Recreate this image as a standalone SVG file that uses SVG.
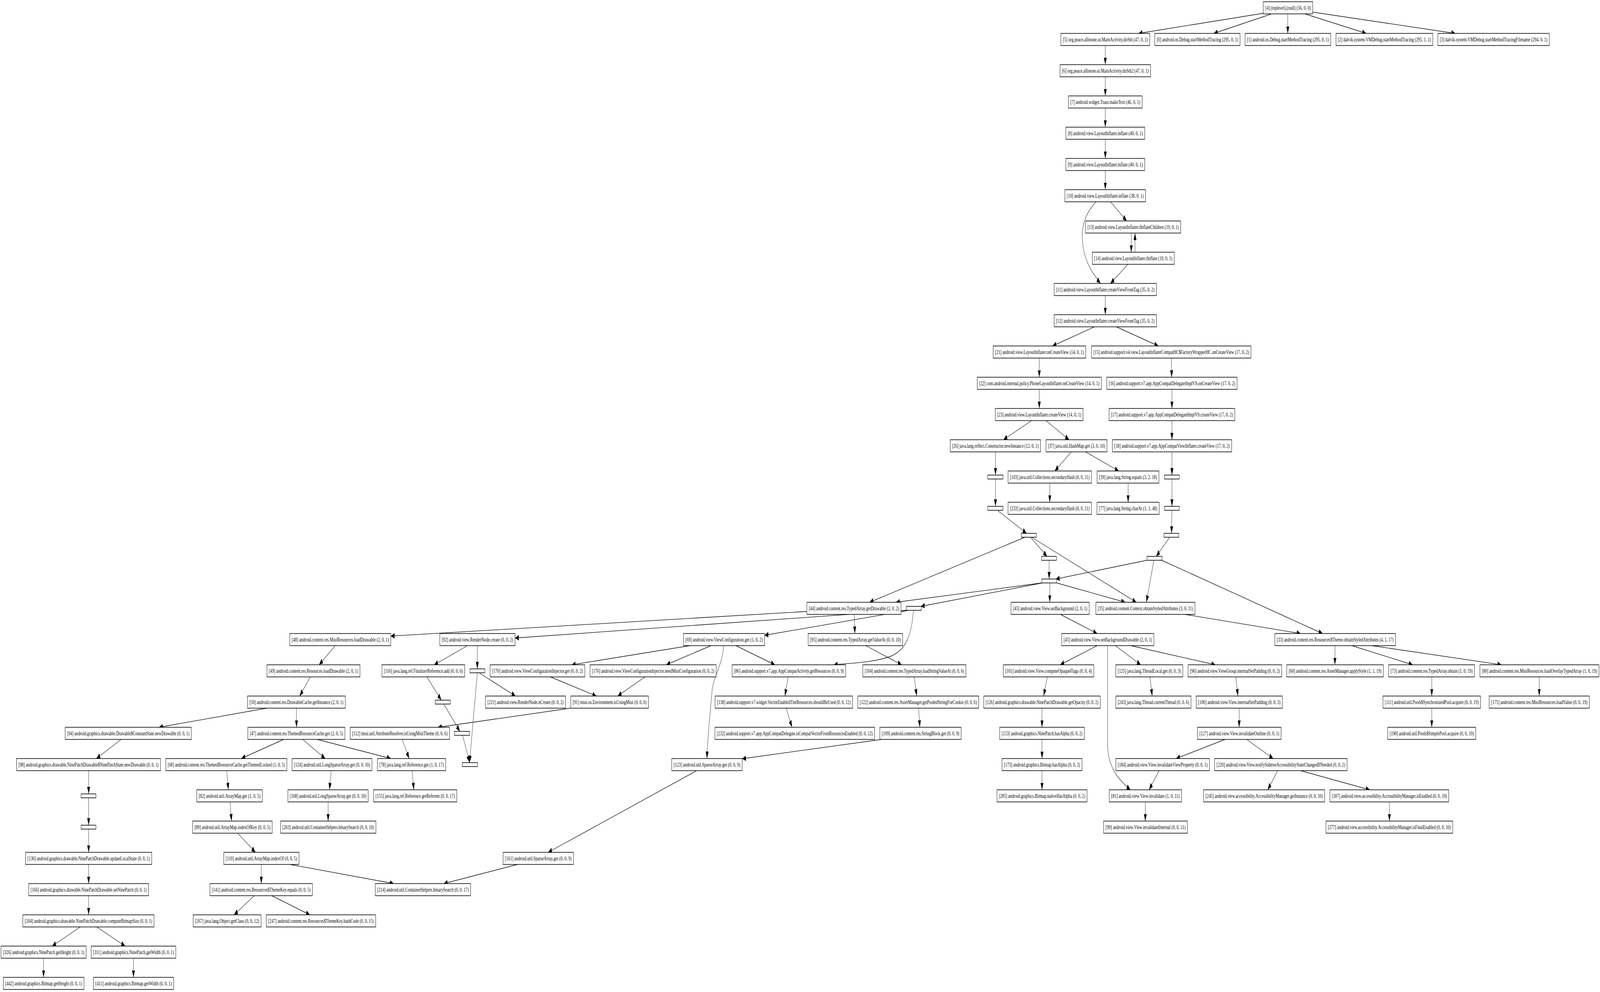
<svg xmlns="http://www.w3.org/2000/svg" width="7636" height="2539" viewBox="0 0 7636 2539" preserveAspectRatio="none">
<defs>
<style>
svg:root{width:100%;height:100%}
.n rect{fill:#fff;stroke:#000;stroke-width:1.6}
.n text{font-family:"Liberation Serif","Times New Roman",serif;font-size:15.5px;text-anchor:middle;fill:#000}
.e path{fill:none;stroke:#000;stroke-width:1.3;marker-end:url(#ah)}
</style>
<marker id="ah" markerUnits="userSpaceOnUse" markerWidth="18" markerHeight="14" refX="18" refY="7" orient="auto"><path d="M0,0 L18,7 L0,14 z" fill="#000"/></marker>
</defs>
<rect x="0" y="0" width="7636" height="2539" fill="#fff"/>
<g id="edges" class="e">
<path d="M6029,34 L5434,85.5"/>
<path d="M6066,36 L5793,85.5"/>
<path d="M6146,35.5 L6146,85.5"/>
<path d="M6228,35.5 L6520,85.5"/>
<path d="M6265,31 L6945,85.5"/>
<path d="M5275,116.5 L5275,165.5"/>
<path d="M5275,196.5 L5275,245.5"/>
<path d="M5275,276.5 L5275,325.5"/>
<path d="M5275,356.5 L5275,405.5"/>
<path d="M5275,436.5 L5275,485.5"/>
<path d="M5231,516.5 C5180,545 5162,580 5165,610 C5170,660 5200,690 5252,725.5"/>
<path d="M5300,516.5 L5377,565.5"/>
<path d="M5399,596.5 L5399,645.5"/>
<path d="M5417,645.5 L5417,596.5"/>
<path d="M5383,676.5 L5300,725.5"/>
<path d="M5275,756.5 L5275,805.5"/>
<path d="M5223,836.5 L5023,885.5"/>
<path d="M5328,836.5 L5528,885.5"/>
<path d="M4960,916.5 L4960,965.5"/>
<path d="M4960,996.5 L4960,1045.5"/>
<path d="M4923,1076.5 L4789,1125.5"/>
<path d="M4992,1076.5 L5102,1125.5"/>
<path d="M5590,916.5 L5592,965.5"/>
<path d="M5593,996.5 L5593,1045.5"/>
<path d="M5593,1076.5 L5593,1125.5"/>
<path d="M4751,1156.5 L4751,1216"/>
<path d="M5113,1156.5 L5034,1205.5"/>
<path d="M5181,1156.5 L5339,1205.5"/>
<path d="M5593,1156.5 L5593,1216"/>
<path d="M4751,1226 L4751,1296"/>
<path d="M5010,1236.5 L5010,1285.5"/>
<path d="M5384,1236.5 L5384,1285.5"/>
<path d="M5593,1226 L5593,1296"/>
<path d="M4760,1306 L4899,1365"/>
<path d="M5593,1306 L5591,1365"/>
<path d="M4918,1375 L4997,1424"/>
<path d="M5583,1375 L5518,1424"/>
<path d="M4892,1375 L4150,1541.5"/>
<path d="M4923,1375 L5423,1541.5"/>
<path d="M5007,1434 L5007,1482"/>
<path d="M5474,1434 L5039,1482"/>
<path d="M4971,1492 L4276,1541.5"/>
<path d="M4975,1492 L4395,1552"/>
<path d="M5010,1492 L5010,1541.5"/>
<path d="M5043,1492 L5370,1541.5"/>
<path d="M5507,1434 L5471,1541.5"/>
<path d="M5544,1434 L6312,1621.5"/>
<path d="M5655,1572.5 L6207,1621.5"/>
<path d="M5061,1572.5 L5236,1621.5"/>
<path d="M3851,1565 L1865,1628"/>
<path d="M4330,1562 L2458,1633"/>
<path d="M4337,1562 L3649,1626"/>
<path d="M4360,1562 C4350,1620 4330,1662 4250,1680 C4160,1697 4050,1697 3979,1701.5"/>
<path d="M4077,1572.5 L4080,1621.5"/>
<path d="M1600,1652.5 L1523,1701.5"/>
<path d="M2231,1652.5 L2072,1701.5"/>
<path d="M2278,1652.5 L2278,1712"/>
<path d="M3293,1652.5 L2729,1701.5"/>
<path d="M3393,1652.5 L3180,1701.5"/>
<path d="M3453,1652.5 C3450,1700 3405,1730 3398,1770 C3385,1850 3376,1900 3374,1941.5"/>
<path d="M3512,1652.5 L3698,1701.5"/>
<path d="M4132,1652.5 L4303,1701.5"/>
<path d="M5236,1652.5 L5060,1701.5"/>
<path d="M5286,1652.5 L5286,1910 C5290,1962 5330,1992 5395,2021.5"/>
<path d="M5323,1652.5 L5444,1701.5"/>
<path d="M5397,1652.5 L5800,1701.5"/>
<path d="M6371,1652.5 L6371,1701.5"/>
<path d="M6452,1652.5 L6742,1701.5"/>
<path d="M6547,1652.5 L7165,1701.5"/>
<path d="M1481,1732.5 L1430,1781.5"/>
<path d="M2037,1732.5 L2106,1792"/>
<path d="M2287,1722 L2460,1781.5"/>
<path d="M2278,1722 L2241,1952"/>
<path d="M2627,1732.5 L2846,1781.5"/>
<path d="M3078,1732.5 L2948,1781.5"/>
<path d="M3761,1732.5 L3746,1781.5"/>
<path d="M4363,1732.5 L4375,1781.5"/>
<path d="M4998,1732.5 L4981,1781.5"/>
<path d="M5488,1732.5 L5499,1781.5"/>
<path d="M5898,1732.5 L5908,1781.5"/>
<path d="M6833,1732.5 L6833,1781.5"/>
<path d="M7346,1732.5 L7346,1781.5"/>
<path d="M1415,1812.5 L1415,1861.5"/>
<path d="M1273,1812.5 L759,1861.5"/>
<path d="M2724,1812.5 L2090,1861.5"/>
<path d="M2118,1802 L2195,1872"/>
<path d="M3752,1812.5 L3780,1861.5"/>
<path d="M4384,1812.5 L4390,1861.5"/>
<path d="M4973,1812.5 L4973,1861.5"/>
<path d="M5914,1812.5 L5914,1861.5"/>
<path d="M6833,1812.5 L6833,1861.5"/>
<path d="M578,1892.5 L460,1941.5"/>
<path d="M1353,1892.5 L1152,1941.5"/>
<path d="M1445,1892.5 L1552,1941.5"/>
<path d="M1514,1892.5 L1865,1941.5"/>
<path d="M1919,1892.5 L1953,1941.5"/>
<path d="M2208,1882 L2241,1952"/>
<path d="M4208,1892.5 L3542,1942"/>
<path d="M4973,1892.5 L4973,1941.5"/>
<path d="M5847,1892.5 L5613,1941.5"/>
<path d="M5950,1892.5 L6076,1941.5"/>
<path d="M423,1972.5 L423,2032"/>
<path d="M1082,1972.5 L1090,2021.5"/>
<path d="M1581,1972.5 L1572,2021.5"/>
<path d="M1967,1972.5 L1975,2021.5"/>
<path d="M4973,1972.5 L4973,2021.5"/>
<path d="M5532,1972.5 L5484,2021.5"/>
<path d="M6098,1972.5 L6050,2021.5"/>
<path d="M6207,1972.5 L6537,2021.5"/>
<path d="M423,2042 L423,2112"/>
<path d="M1098,2052.5 L1105,2101.5"/>
<path d="M1566,2052.5 L1566,2101.5"/>
<path d="M5466,2052.5 L5466,2101.5"/>
<path d="M6631,2052.5 L6631,2101.5"/>
<path d="M423,2122 L423,2181.5"/>
<path d="M1134,2132.5 L1219,2181.5"/>
<path d="M3325,1972.5 L2616,2181.5"/>
<path d="M423,2212.5 L423,2261.5"/>
<path d="M1247,2212.5 L1247,2261.5"/>
<path d="M1384,2212.5 L1879,2261.5"/>
<path d="M2470,2212.5 L2118,2261.5"/>
<path d="M423,2292.5 L423,2341.5"/>
<path d="M1214,2292.5 L1117,2341.5"/>
<path d="M1297,2292.5 L1479,2341.5"/>
<path d="M383,2372.5 L249,2421.5"/>
<path d="M462,2372.5 L597,2421.5"/>
<path d="M208,2452.5 L208,2501.5"/>
<path d="M637,2452.5 L637,2501.5"/>
</g>
<g id="n4" class="n"><rect x="6029" y="4.5" width="236" height="31"/><text x="6147" y="25" textLength="218" lengthAdjust="spacingAndGlyphs">[4] (toplevel).(null) (56, 0, 0)</text></g>
<g id="n5" class="n"><rect x="5063" y="85.5" width="424" height="31"/><text x="5275" y="106" textLength="406" lengthAdjust="spacingAndGlyphs">[5] org.peace.allinone.ui.MainActivity.doSth (47, 0, 1)</text></g>
<g id="n0" class="n"><rect x="5511" y="85.5" width="407" height="31"/><text x="5714.5" y="106" textLength="389" lengthAdjust="spacingAndGlyphs">[0] android.os.Debug.startMethodTracing (295, 0, 1)</text></g>
<g id="n1" class="n"><rect x="5942" y="85.5" width="409" height="31"/><text x="6146.5" y="106" textLength="391" lengthAdjust="spacingAndGlyphs">[1] android.os.Debug.startMethodTracing (295, 0, 1)</text></g>
<g id="n2" class="n"><rect x="6376" y="85.5" width="462" height="31"/><text x="6607" y="106" textLength="444" lengthAdjust="spacingAndGlyphs">[2] dalvik.system.VMDebug.startMethodTracing (295, 1, 1)</text></g>
<g id="n3" class="n"><rect x="6862" y="85.5" width="532" height="31"/><text x="7128" y="106" textLength="514" lengthAdjust="spacingAndGlyphs">[3] dalvik.system.VMDebug.startMethodTracingFilename (294, 0, 1)</text></g>
<g id="n6" class="n"><rect x="5059" y="165.5" width="432" height="31"/><text x="5275" y="186" textLength="414" lengthAdjust="spacingAndGlyphs">[6] org.peace.allinone.ui.MainActivity.doSth2 (47, 0, 1)</text></g>
<g id="n7" class="n"><rect x="5099" y="245.5" width="352" height="31"/><text x="5275" y="266" textLength="334" lengthAdjust="spacingAndGlyphs">[7] android.widget.Toast.makeText (46, 0, 1)</text></g>
<g id="n8" class="n"><rect x="5087" y="325.5" width="376" height="31"/><text x="5275" y="346" textLength="358" lengthAdjust="spacingAndGlyphs">[8] android.view.LayoutInflater.inflate (40, 0, 1)</text></g>
<g id="n9" class="n"><rect x="5087" y="405.5" width="376" height="31"/><text x="5275" y="426" textLength="358" lengthAdjust="spacingAndGlyphs">[9] android.view.LayoutInflater.inflate (40, 0, 1)</text></g>
<g id="n10" class="n"><rect x="5082" y="485.5" width="385" height="31"/><text x="5274.5" y="506" textLength="367" lengthAdjust="spacingAndGlyphs">[10] android.view.LayoutInflater.inflate (38, 0, 1)</text></g>
<g id="n13" class="n"><rect x="5181" y="565.5" width="454" height="31"/><text x="5408" y="586" textLength="436" lengthAdjust="spacingAndGlyphs">[13] android.view.LayoutInflater.rInflateChildren (19, 0, 1)</text></g>
<g id="n14" class="n"><rect x="5213" y="645.5" width="391" height="31"/><text x="5408.5" y="666" textLength="373" lengthAdjust="spacingAndGlyphs">[14] android.view.LayoutInflater.rInflate (19, 0, 1)</text></g>
<g id="n11" class="n"><rect x="5031" y="725.5" width="488" height="31"/><text x="5275" y="746" textLength="470" lengthAdjust="spacingAndGlyphs">[11] android.view.LayoutInflater.createViewFromTag (35, 0, 2)</text></g>
<g id="n12" class="n"><rect x="5031" y="805.5" width="488" height="31"/><text x="5275" y="826" textLength="470" lengthAdjust="spacingAndGlyphs">[12] android.view.LayoutInflater.createViewFromTag (35, 0, 2)</text></g>
<g id="n21" class="n"><rect x="4740" y="885.5" width="442" height="31"/><text x="4961" y="906" textLength="424" lengthAdjust="spacingAndGlyphs">[21] android.view.LayoutInflater.onCreateView (14, 0, 1)</text></g>
<g id="n15" class="n"><rect x="5209" y="885.5" width="761" height="31"/><text x="5589.5" y="906" textLength="743" lengthAdjust="spacingAndGlyphs">[15] android.support.v4.view.LayoutInflaterCompatHC$FactoryWrapperHC.onCreateView (17, 0, 2)</text></g>
<g id="n22" class="n"><rect x="4664" y="965.5" width="592" height="31"/><text x="4960" y="986" textLength="574" lengthAdjust="spacingAndGlyphs">[22] com.android.internal.policy.PhoneLayoutInflater.onCreateView (14, 0, 1)</text></g>
<g id="n16" class="n"><rect x="5282" y="965.5" width="622" height="31"/><text x="5593" y="986" textLength="604" lengthAdjust="spacingAndGlyphs">[16] android.support.v7.app.AppCompatDelegateImplV9.onCreateView (17, 0, 2)</text></g>
<g id="n23" class="n"><rect x="4750" y="1045.5" width="419" height="31"/><text x="4959.5" y="1066" textLength="401" lengthAdjust="spacingAndGlyphs">[23] android.view.LayoutInflater.createView (14, 0, 1)</text></g>
<g id="n17" class="n"><rect x="5293" y="1045.5" width="600" height="31"/><text x="5593" y="1066" textLength="582" lengthAdjust="spacingAndGlyphs">[17] android.support.v7.app.AppCompatDelegateImplV9.createView (17, 0, 2)</text></g>
<g id="n26" class="n"><rect x="4535" y="1125.5" width="431" height="31"/><text x="4750.5" y="1146" textLength="413" lengthAdjust="spacingAndGlyphs">[26] java.lang.reflect.Constructor.newInstance (12, 0, 1)</text></g>
<g id="n37" class="n"><rect x="4992" y="1125.5" width="291" height="31"/><text x="5137.5" y="1146" textLength="273" lengthAdjust="spacingAndGlyphs">[37] java.util.HashMap.get (3, 0, 10)</text></g>
<g id="n18" class="n"><rect x="5309" y="1125.5" width="569" height="31"/><text x="5593.5" y="1146" textLength="551" lengthAdjust="spacingAndGlyphs">[18] android.support.v7.app.AppCompatViewInflater.createView (17, 0, 2)</text></g>
<g id="n103" class="n"><rect x="4811" y="1205.5" width="398" height="31"/><text x="5010" y="1226" textLength="380" lengthAdjust="spacingAndGlyphs">[103] java.util.Collections.secondaryHash (0, 0, 11)</text></g>
<g id="n39" class="n"><rect x="5236" y="1205.5" width="295" height="31"/><text x="5383.5" y="1226" textLength="277" lengthAdjust="spacingAndGlyphs">[39] java.lang.String.equals (3, 2, 18)</text></g>
<g id="n233" class="n"><rect x="4811" y="1285.5" width="398" height="31"/><text x="5010" y="1306" textLength="380" lengthAdjust="spacingAndGlyphs">[233] java.util.Collections.secondaryHash (0, 0, 11)</text></g>
<g id="n77" class="n"><rect x="5235" y="1285.5" width="297" height="31"/><text x="5383.5" y="1306" textLength="279" lengthAdjust="spacingAndGlyphs">[77] java.lang.String.charAt (1, 1, 48)</text></g>
<g id="sA1" class="n"><rect x="4714" y="1216" width="73" height="10"/></g>
<g id="sB1" class="n"><rect x="5557" y="1216" width="71" height="10"/></g>
<g id="sA2" class="n"><rect x="4714" y="1296" width="73" height="10"/></g>
<g id="sB2" class="n"><rect x="5557" y="1296" width="71" height="10"/></g>
<g id="sA3" class="n"><rect x="4874" y="1365" width="72" height="10"/></g>
<g id="sB3" class="n"><rect x="5555" y="1365" width="71" height="10"/></g>
<g id="sA4" class="n"><rect x="4971" y="1424" width="71" height="10"/></g>
<g id="sB4" class="n"><rect x="5474" y="1424" width="72" height="10"/></g>
<g id="sA5" class="n"><rect x="4972" y="1482" width="71" height="10"/></g>
<g id="sC1" class="n"><rect x="4325" y="1552" width="72" height="10"/></g>
<g id="n44" class="n"><rect x="3851" y="1541.5" width="449" height="31"/><text x="4075.5" y="1562" textLength="431" lengthAdjust="spacingAndGlyphs">[44] android.content.res.TypedArray.getDrawable (2, 0, 2)</text></g>
<g id="n43" class="n"><rect x="4825" y="1541.5" width="373" height="31"/><text x="5011.5" y="1562" textLength="355" lengthAdjust="spacingAndGlyphs">[43] android.view.View.setBackground (2, 0, 1)</text></g>
<g id="n35" class="n"><rect x="5230" y="1541.5" width="473" height="31"/><text x="5466.5" y="1562" textLength="455" lengthAdjust="spacingAndGlyphs">[35] android.content.Context.obtainStyledAttributes (3, 0, 11)</text></g>
<g id="n48" class="n"><rect x="1383" y="1621.5" width="482" height="31"/><text x="1624" y="1642" textLength="464" lengthAdjust="spacingAndGlyphs">[48] android.content.res.MiuiResources.loadDrawable (2, 0, 1)</text></g>
<g id="n92" class="n"><rect x="2099" y="1621.5" width="359" height="31"/><text x="2278.5" y="1642" textLength="341" lengthAdjust="spacingAndGlyphs">[92] android.view.RenderNode.create (0, 0, 2)</text></g>
<g id="n69" class="n"><rect x="3262" y="1621.5" width="387" height="31"/><text x="3455.5" y="1642" textLength="369" lengthAdjust="spacingAndGlyphs">[69] android.view.ViewConfiguration.get (1, 0, 2)</text></g>
<g id="n95" class="n"><rect x="3857" y="1621.5" width="451" height="31"/><text x="4082.5" y="1642" textLength="433" lengthAdjust="spacingAndGlyphs">[95] android.content.res.TypedArray.getValueAt (0, 0, 10)</text></g>
<g id="n45" class="n"><rect x="5067" y="1621.5" width="440" height="31"/><text x="5287" y="1642" textLength="422" lengthAdjust="spacingAndGlyphs">[45] android.view.View.setBackgroundDrawable (2, 0, 1)</text></g>
<g id="n33" class="n"><rect x="6084" y="1621.5" width="576" height="31"/><text x="6372" y="1642" textLength="558" lengthAdjust="spacingAndGlyphs">[33] android.content.res.Resources$Theme.obtainStyledAttributes (4, 1, 17)</text></g>
<g id="n49" class="n"><rect x="1274" y="1701.5" width="444" height="31"/><text x="1496" y="1722" textLength="426" lengthAdjust="spacingAndGlyphs">[49] android.content.res.Resources.loadDrawable (2, 0, 1)</text></g>
<g id="n116" class="n"><rect x="1823" y="1701.5" width="395" height="31"/><text x="2020.5" y="1722" textLength="377" lengthAdjust="spacingAndGlyphs">[116] java.lang.ref.FinalizerReference.add (0, 0, 6)</text></g>
<g id="sD1" class="n"><rect x="2243" y="1712" width="71" height="10"/></g>
<g id="n170" class="n"><rect x="2339" y="1701.5" width="452" height="31"/><text x="2565" y="1722" textLength="434" lengthAdjust="spacingAndGlyphs">[170] android.view.ViewConfigurationInjector.get (0, 0, 2)</text></g>
<g id="n176" class="n"><rect x="2816" y="1701.5" width="602" height="31"/><text x="3117" y="1722" textLength="584" lengthAdjust="spacingAndGlyphs">[176] android.view.ViewConfigurationInjector.needMiuiConfiguration (0, 0, 2)</text></g>
<g id="n86" class="n"><rect x="3494" y="1701.5" width="542" height="31"/><text x="3765" y="1722" textLength="524" lengthAdjust="spacingAndGlyphs">[86] android.support.v7.app.AppCompatActivity.getResources (0, 0, 9)</text></g>
<g id="n104" class="n"><rect x="4118" y="1701.5" width="492" height="31"/><text x="4364" y="1722" textLength="474" lengthAdjust="spacingAndGlyphs">[104] android.content.res.TypedArray.loadStringValueAt (0, 0, 6)</text></g>
<g id="n101" class="n"><rect x="4788" y="1701.5" width="432" height="31"/><text x="5004" y="1722" textLength="414" lengthAdjust="spacingAndGlyphs">[101] android.view.View.computeOpaqueFlags (0, 0, 4)</text></g>
<g id="n125" class="n"><rect x="5325" y="1701.5" width="320" height="31"/><text x="5485" y="1722" textLength="302" lengthAdjust="spacingAndGlyphs">[125] java.lang.ThreadLocal.get (0, 0, 3)</text></g>
<g id="n96" class="n"><rect x="5670" y="1701.5" width="447" height="31"/><text x="5893.5" y="1722" textLength="429" lengthAdjust="spacingAndGlyphs">[96] android.view.ViewGroup.internalSetPadding (0, 0, 2)</text></g>
<g id="n60" class="n"><rect x="6141" y="1701.5" width="461" height="31"/><text x="6371.5" y="1722" textLength="443" lengthAdjust="spacingAndGlyphs">[60] android.content.res.AssetManager.applyStyle (1, 1, 19)</text></g>
<g id="n73" class="n"><rect x="6627" y="1701.5" width="410" height="31"/><text x="6832" y="1722" textLength="392" lengthAdjust="spacingAndGlyphs">[73] android.content.res.TypedArray.obtain (1, 0, 19)</text></g>
<g id="n80" class="n"><rect x="7063" y="1701.5" width="568" height="31"/><text x="7347" y="1722" textLength="550" lengthAdjust="spacingAndGlyphs">[80] android.content.res.MiuiResources.loadOverlayTypedArray (1, 0, 19)</text></g>
<g id="n50" class="n"><rect x="1181" y="1781.5" width="467" height="31"/><text x="1414.5" y="1802" textLength="449" lengthAdjust="spacingAndGlyphs">[50] android.content.res.DrawableCache.getInstance (2, 0, 1)</text></g>
<g id="sD2" class="n"><rect x="2077" y="1792" width="72" height="10"/></g>
<g id="n221" class="n"><rect x="2317" y="1781.5" width="382" height="31"/><text x="2508" y="1802" textLength="364" lengthAdjust="spacingAndGlyphs">[221] android.view.RenderNode.nCreate (0, 0, 2)</text></g>
<g id="n91" class="n"><rect x="2724" y="1781.5" width="371" height="31"/><text x="2909.5" y="1802" textLength="353" lengthAdjust="spacingAndGlyphs">[91] miui.os.Environment.isUsingMiui (0, 0, 6)</text></g>
<g id="n138" class="n"><rect x="3413" y="1781.5" width="656" height="31"/><text x="3741" y="1802" textLength="638" lengthAdjust="spacingAndGlyphs">[138] android.support.v7.widget.VectorEnabledTintResources.shouldBeUsed (0, 0, 12)</text></g>
<g id="n122" class="n"><rect x="4094" y="1781.5" width="577" height="31"/><text x="4382.5" y="1802" textLength="559" lengthAdjust="spacingAndGlyphs">[122] android.content.res.AssetManager.getPooledStringForCookie (0, 0, 6)</text></g>
<g id="n126" class="n"><rect x="4695" y="1781.5" width="556" height="31"/><text x="4973" y="1802" textLength="538" lengthAdjust="spacingAndGlyphs">[126] android.graphics.drawable.NinePatchDrawable.getOpacity (0, 0, 2)</text></g>
<g id="n243" class="n"><rect x="5325" y="1781.5" width="359" height="31"/><text x="5504.5" y="1802" textLength="341" lengthAdjust="spacingAndGlyphs">[243] java.lang.Thread.currentThread (0, 0, 6)</text></g>
<g id="n106" class="n"><rect x="5709" y="1781.5" width="411" height="31"/><text x="5914.5" y="1802" textLength="393" lengthAdjust="spacingAndGlyphs">[106] android.view.View.internalSetPadding (0, 0, 3)</text></g>
<g id="n111" class="n"><rect x="6600" y="1781.5" width="466" height="31"/><text x="6833" y="1802" textLength="448" lengthAdjust="spacingAndGlyphs">[111] android.util.Pools$SynchronizedPool.acquire (0, 0, 19)</text></g>
<g id="n175" class="n"><rect x="7107" y="1781.5" width="478" height="31"/><text x="7346" y="1802" textLength="460" lengthAdjust="spacingAndGlyphs">[175] android.content.res.MiuiResources.loadValue (0, 0, 19)</text></g>
<g id="n94" class="n"><rect x="311" y="1861.5" width="602" height="31"/><text x="612" y="1882" textLength="584" lengthAdjust="spacingAndGlyphs">[94] android.graphics.drawable.Drawable$ConstantState.newDrawable (0, 0, 1)</text></g>
<g id="n47" class="n"><rect x="1183" y="1861.5" width="463" height="31"/><text x="1414.5" y="1882" textLength="445" lengthAdjust="spacingAndGlyphs">[47] android.content.res.ThemedResourceCache.get (2, 0, 5)</text></g>
<g id="n112" class="n"><rect x="1671" y="1861.5" width="474" height="31"/><text x="1908" y="1882" textLength="456" lengthAdjust="spacingAndGlyphs">[112] miui.util.AttributeResolver.isUsingMiuiTheme (0, 0, 6)</text></g>
<g id="sD4" class="n"><rect x="2169" y="1872" width="72" height="10"/></g>
<g id="n232" class="n"><rect x="3412" y="1861.5" width="762" height="31"/><text x="3793" y="1882" textLength="744" lengthAdjust="spacingAndGlyphs">[232] android.support.v7.app.AppCompatDelegate.isCompatVectorFromResourcesEnabled (0, 0, 12)</text></g>
<g id="n109" class="n"><rect x="4199" y="1861.5" width="388" height="31"/><text x="4393" y="1882" textLength="370" lengthAdjust="spacingAndGlyphs">[109] android.content.res.StringBlock.get (0, 0, 9)</text></g>
<g id="n153" class="n"><rect x="4771" y="1861.5" width="404" height="31"/><text x="4973" y="1882" textLength="386" lengthAdjust="spacingAndGlyphs">[153] android.graphics.NinePatch.hasAlpha (0, 0, 2)</text></g>
<g id="n127" class="n"><rect x="5715" y="1861.5" width="399" height="31"/><text x="5914.5" y="1882" textLength="381" lengthAdjust="spacingAndGlyphs">[127] android.view.View.invalidateOutline (0, 0, 1)</text></g>
<g id="n190" class="n"><rect x="6623" y="1861.5" width="420" height="31"/><text x="6833" y="1882" textLength="402" lengthAdjust="spacingAndGlyphs">[190] android.util.Pools$SimplePool.acquire (0, 0, 19)</text></g>
<g id="n98" class="n"><rect x="79" y="1941.5" width="687" height="31"/><text x="422.5" y="1962" textLength="669" lengthAdjust="spacingAndGlyphs">[98] android.graphics.drawable.NinePatchDrawable$NinePatchState.newDrawable (0, 0, 1)</text></g>
<g id="n68" class="n"><rect x="791" y="1941.5" width="578" height="31"/><text x="1080" y="1962" textLength="560" lengthAdjust="spacingAndGlyphs">[68] android.content.res.ThemedResourceCache.getThemedLocked (1, 0, 5)</text></g>
<g id="n124" class="n"><rect x="1394" y="1941.5" width="381" height="31"/><text x="1584.5" y="1962" textLength="363" lengthAdjust="spacingAndGlyphs">[124] android.util.LongSparseArray.get (0, 0, 10)</text></g>
<g id="n78" class="n"><rect x="1801" y="1941.5" width="326" height="31"/><text x="1964" y="1962" textLength="308" lengthAdjust="spacingAndGlyphs">[78] java.lang.ref.Reference.get (1, 0, 17)</text></g>
<g id="sD3" class="n"><rect x="2206" y="1952" width="73" height="10"/></g>
<g id="n123" class="n"><rect x="3206" y="1941.5" width="336" height="31"/><text x="3374" y="1962" textLength="318" lengthAdjust="spacingAndGlyphs">[123] android.util.SparseArray.get (0, 0, 9)</text></g>
<g id="n173" class="n"><rect x="4782" y="1941.5" width="382" height="31"/><text x="4973" y="1962" textLength="364" lengthAdjust="spacingAndGlyphs">[173] android.graphics.Bitmap.hasAlpha (0, 0, 2)</text></g>
<g id="n184" class="n"><rect x="5325" y="1941.5" width="447" height="31"/><text x="5548.5" y="1962" textLength="429" lengthAdjust="spacingAndGlyphs">[184] android.view.View.invalidateViewProperty (0, 0, 1)</text></g>
<g id="n220" class="n"><rect x="5797" y="1941.5" width="632" height="31"/><text x="6113" y="1962" textLength="614" lengthAdjust="spacingAndGlyphs">[220] android.view.View.notifySubtreeAccessibilityStateChangedIfNeeded (0, 0, 2)</text></g>
<g id="sE1" class="n"><rect x="387" y="2032" width="71" height="10"/></g>
<g id="n82" class="n"><rect x="939" y="2021.5" width="313" height="31"/><text x="1095.5" y="2042" textLength="295" lengthAdjust="spacingAndGlyphs">[82] android.util.ArrayMap.get (1, 0, 5)</text></g>
<g id="n168" class="n"><rect x="1374" y="2021.5" width="383" height="31"/><text x="1565.5" y="2042" textLength="365" lengthAdjust="spacingAndGlyphs">[168] android.util.LongSparseArray.get (0, 0, 10)</text></g>
<g id="n155" class="n"><rect x="1783" y="2021.5" width="397" height="31"/><text x="1981.5" y="2042" textLength="379" lengthAdjust="spacingAndGlyphs">[155] java.lang.ref.Reference.getReferent (0, 0, 17)</text></g>
<g id="n285" class="n"><rect x="4758" y="2021.5" width="430" height="31"/><text x="4973" y="2042" textLength="412" lengthAdjust="spacingAndGlyphs">[285] android.graphics.Bitmap.nativeHasAlpha (0, 0, 2)</text></g>
<g id="n81" class="n"><rect x="5294" y="2021.5" width="345" height="31"/><text x="5466.5" y="2042" textLength="327" lengthAdjust="spacingAndGlyphs">[81] android.view.View.invalidate (1, 0, 11)</text></g>
<g id="n245" class="n"><rect x="5744" y="2021.5" width="578" height="31"/><text x="6033" y="2042" textLength="560" lengthAdjust="spacingAndGlyphs">[245] android.view.accessibility.AccessibilityManager.getInstance (0, 0, 10)</text></g>
<g id="n187" class="n"><rect x="6347" y="2021.5" width="567" height="31"/><text x="6630.5" y="2042" textLength="549" lengthAdjust="spacingAndGlyphs">[187] android.view.accessibility.AccessibilityManager.isEnabled (0, 0, 10)</text></g>
<g id="sE2" class="n"><rect x="387" y="2112" width="71" height="10"/></g>
<g id="n89" class="n"><rect x="919" y="2101.5" width="380" height="31"/><text x="1109" y="2122" textLength="362" lengthAdjust="spacingAndGlyphs">[89] android.util.ArrayMap.indexOfKey (0, 0, 5)</text></g>
<g id="n263" class="n"><rect x="1339" y="2101.5" width="455" height="31"/><text x="1566.5" y="2122" textLength="437" lengthAdjust="spacingAndGlyphs">[263] android.util.ContainerHelpers.binarySearch (0, 0, 10)</text></g>
<g id="n99" class="n"><rect x="5267" y="2101.5" width="400" height="31"/><text x="5467" y="2122" textLength="382" lengthAdjust="spacingAndGlyphs">[99] android.view.View.invalidateInternal (0, 0, 11)</text></g>
<g id="n277" class="n"><rect x="6328" y="2101.5" width="605" height="31"/><text x="6630.5" y="2122" textLength="587" lengthAdjust="spacingAndGlyphs">[277] android.view.accessibility.AccessibilityManager.isFinalEnabled (0, 0, 10)</text></g>
<g id="n130" class="n"><rect x="122" y="2181.5" width="602" height="31"/><text x="423" y="2202" textLength="584" lengthAdjust="spacingAndGlyphs">[130] android.graphics.drawable.NinePatchDrawable.updateLocalState (0, 0, 1)</text></g>
<g id="n110" class="n"><rect x="1068" y="2181.5" width="359" height="31"/><text x="1247.5" y="2202" textLength="341" lengthAdjust="spacingAndGlyphs">[110] android.util.ArrayMap.indexOf (0, 0, 5)</text></g>
<g id="n161" class="n"><rect x="2401" y="2181.5" width="336" height="31"/><text x="2569" y="2202" textLength="318" lengthAdjust="spacingAndGlyphs">[161] android.util.SparseArray.get (0, 0, 9)</text></g>
<g id="n166" class="n"><rect x="137" y="2261.5" width="572" height="31"/><text x="423" y="2282" textLength="554" lengthAdjust="spacingAndGlyphs">[166] android.graphics.drawable.NinePatchDrawable.setNinePatch (0, 0, 1)</text></g>
<g id="n141" class="n"><rect x="1002" y="2261.5" width="489" height="31"/><text x="1246.5" y="2282" textLength="471" lengthAdjust="spacingAndGlyphs">[141] android.content.res.Resources$ThemeKey.equals (0, 0, 5)</text></g>
<g id="n214" class="n"><rect x="1791" y="2261.5" width="455" height="31"/><text x="2018.5" y="2282" textLength="437" lengthAdjust="spacingAndGlyphs">[214] android.util.ContainerHelpers.binarySearch (0, 0, 17)</text></g>
<g id="n204" class="n"><rect x="109" y="2341.5" width="626" height="31"/><text x="422" y="2362" textLength="608" lengthAdjust="spacingAndGlyphs">[204] android.graphics.drawable.NinePatchDrawable.computeBitmapSize (0, 0, 1)</text></g>
<g id="n267" class="n"><rect x="922" y="2341.5" width="324" height="31"/><text x="1084" y="2362" textLength="306" lengthAdjust="spacingAndGlyphs">[267] java.lang.Object.getClass (0, 0, 12)</text></g>
<g id="n247" class="n"><rect x="1271" y="2341.5" width="522" height="31"/><text x="1532" y="2362" textLength="504" lengthAdjust="spacingAndGlyphs">[247] android.content.res.Resources$ThemeKey.hashCode (0, 0, 15)</text></g>
<g id="n326" class="n"><rect x="5" y="2421.5" width="406" height="31"/><text x="208" y="2442" textLength="388" lengthAdjust="spacingAndGlyphs">[326] android.graphics.NinePatch.getHeight (0, 0, 1)</text></g>
<g id="n311" class="n"><rect x="435" y="2421.5" width="404" height="31"/><text x="637" y="2442" textLength="386" lengthAdjust="spacingAndGlyphs">[311] android.graphics.NinePatch.getWidth (0, 0, 1)</text></g>
<g id="n442" class="n"><rect x="16" y="2501.5" width="385" height="31"/><text x="208.5" y="2522" textLength="367" lengthAdjust="spacingAndGlyphs">[442] android.graphics.Bitmap.getHeight (0, 0, 1)</text></g>
<g id="n411" class="n"><rect x="446" y="2501.5" width="383" height="31"/><text x="637.5" y="2522" textLength="365" lengthAdjust="spacingAndGlyphs">[411] android.graphics.Bitmap.getWidth (0, 0, 1)</text></g>
</svg>
